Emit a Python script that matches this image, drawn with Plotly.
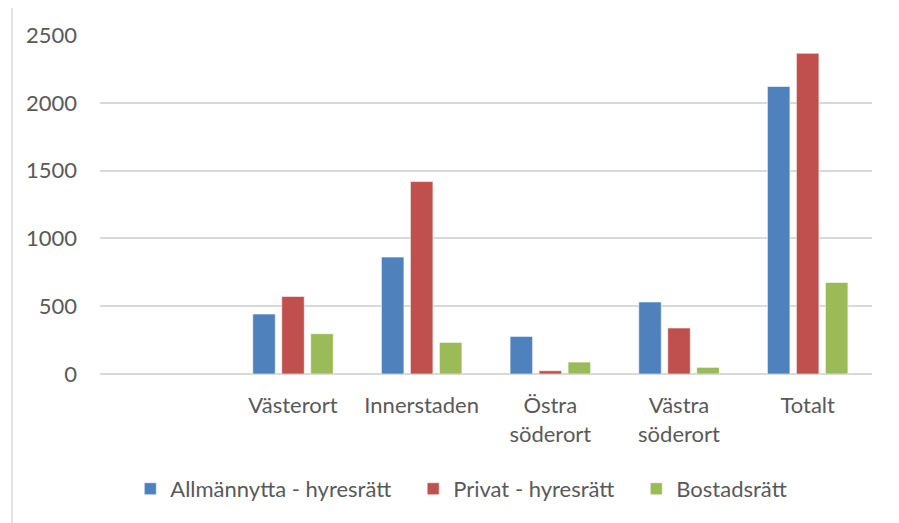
import plotly.graph_objects as go

# Data
categories = [" ", "Västerort", "Innerstaden", "Östra<br>söderort", "Västra<br>söderort", "Totalt"]
series_names = ['Allmännytta - hyresrätt', 'Privat - hyresrätt', 'Bostadsrätt']
allmannytta = [None, 442, 862, 277, 531, 2120]
privat = [None, 572, 1419, 24, 339, 2365]
bostadsratt = [None, 297, 233, 88, 49, 675]
y_ticks = [0, 500, 1000, 1500, 2000, 2500]

COLORS = {
    'blue': '#4F81BD',
    'red': '#C0504D',
    'green': '#9BBB59',
    'text': '#595959',
    'grid': '#D9D9D9',
}
FONT = 'Lato, Carlito, Calibri, sans-serif'

# page has an 8px body margin, so the figure is drawn 8px in and 8px down
OFF = 8
W, H = 899 - OFF, 523 - OFF
L, R, T, B = 100 - OFF, 27, 35 - OFF, 149

PAD = '\u00a0' * 3  # extra room between legend entries

fig = go.Figure()
for i, (vals, col) in enumerate([
    (allmannytta, COLORS['blue']),
    (privat, COLORS['red']),
    (bostadsratt, COLORS['green']),
]):
    label = series_names[i] + (PAD if i < 2 else '')
    fig.add_trace(go.Bar(
        x=categories, y=vals, name=label,
        marker=dict(color=col, line=dict(color='rgba(255,255,255,0.55)', width=1)),
    ))

# outer chart border, only its left edge is inside the crop
pw, ph = W - L - R, H - T - B
fig.add_shape(
    type='line', xref='paper', yref='paper',
    x0=(12 - OFF - L) / pw, x1=(12 - OFF - L) / pw,
    y0=-(B + 20) / ph, y1=1 + T / ph,
    line=dict(color=COLORS['grid'], width=1.5), layer='below',
)

fig.update_layout(
    width=W, height=H,
    paper_bgcolor='white', plot_bgcolor='white',
    font=dict(family=FONT, size=22, color=COLORS['text']),
    margin=dict(l=L, r=R, t=T, b=B, pad=0),
    barmode='group', bargap=0.324, bargroupgap=0.224,
    xaxis=dict(
        type='category', categoryorder='array', categoryarray=categories,
        range=[-0.5, 5.5], showgrid=False, showline=False, zeroline=False,
        ticks='', ticklabelstandoff=16, tickfont=dict(size=22, color=COLORS['text']),
    ),
    yaxis=dict(
        range=[0, 2500], tickvals=y_ticks, showgrid=True, gridcolor=COLORS['grid'],
        gridwidth=1.5, zeroline=True, zerolinecolor=COLORS['grid'], zerolinewidth=1.5,
        showline=False, ticks='', ticklabelstandoff=22,
        tickfont=dict(size=22, color=COLORS['text']),
    ),
    legend=dict(
        orientation='h', x=0.468, xanchor='center', y=-0.339, yanchor='middle',
        font=dict(size=22, color=COLORS['text']), bgcolor='rgba(0,0,0,0)',
    ),
    showlegend=True,
)

fig.write_html("out.html")
